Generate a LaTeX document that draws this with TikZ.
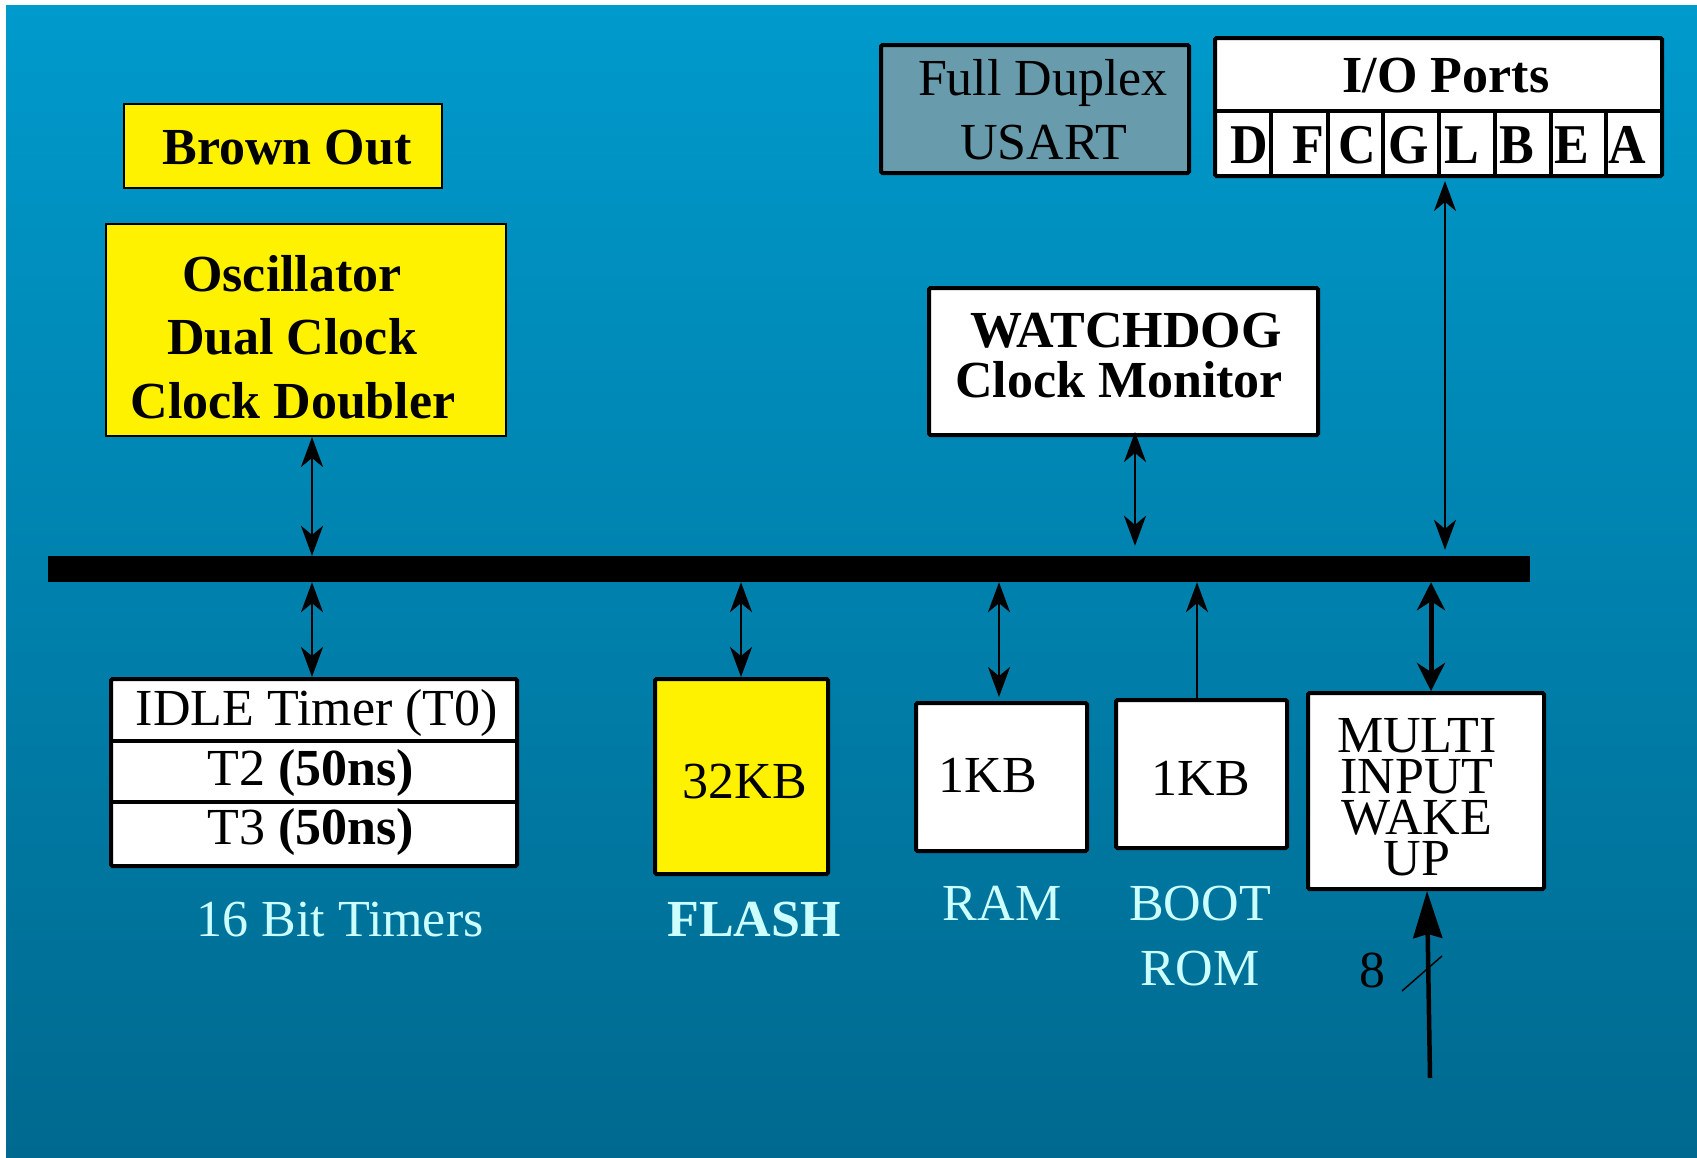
\documentclass[tikz,border=0pt]{standalone}
\usepackage{fontspec}
\setmainfont{Liberation Serif}
\usetikzlibrary{arrows.meta,calc}

\definecolor{bgtop}{RGB}{0,154,204}
\definecolor{bgbot}{RGB}{0,105,143}
\definecolor{usartfill}{RGB}{104,155,172}
\definecolor{captioncyan}{RGB}{204,255,255}

\begin{document}
\begin{tikzpicture}[x=1pt,y=-1pt,
  thinbox/.style={draw=black, line width=2pt, fill=yellow, inner sep=0pt},
  heavybox/.style={draw=black, line width=4pt, fill=white, inner sep=0pt, rounded corners=1.5pt},
  divider/.style={draw=black, line width=4pt},
  txt/.style={font=\fontsize{52}{52}\selectfont, inner sep=0pt, anchor=base},
  btxt/.style={font=\fontsize{52}{52}\selectfont\bfseries, inner sep=0pt, anchor=base},
  captext/.style={text=captioncyan},
  link/.style={line width=2.5pt, {Stealth[length=30pt,width=22pt,inset=9pt]}-{Stealth[length=30pt,width=22pt,inset=9pt]}},
  oneway/.style={line width=2.5pt, -{Stealth[length=30pt,width=22pt,inset=9pt]}},
  heavylink/.style={line width=5pt, {Stealth[length=28pt,width=28pt,inset=9pt]}-{Stealth[length=28pt,width=28pt,inset=9pt]}},
  inlink/.style={line width=4.5pt, -{Stealth[length=47pt,width=29pt,inset=4pt]}}
]
\useasboundingbox (0,0) rectangle (1697,1157);
\fill[white] (0,0) rectangle (1697,1157);
\shade[top color=bgtop, bottom color=bgbot] (6,5) rectangle (1697,1157);

% internal bus
\node[fill=black, inner sep=0pt, minimum width=1482pt, minimum height=26pt] (bus) at (789,569) {};

% clock section
\node[thinbox, minimum width=318pt, minimum height=84pt] (brown) at (283,146) {};
\node[btxt] (browntxt) at (287,164) {Brown Out};

\node[thinbox, minimum width=400pt, minimum height=212pt] (osc) at (306,330) {};
\node[btxt] (osctxta) at (292,291) {Oscillator};
\node[btxt] (osctxtb) at (292,354) {Dual Clock};
\node[btxt] (osctxtc) at (293,418) {Clock Doubler};

% serial port
\node[heavybox, fill=usartfill, minimum width=308pt, minimum height=128pt] (usart) at (1035,109) {};
\node[txt] (usarttxta) at (1043,95) {Full Duplex};
\node[txt] (usarttxtb) at (1044,159) {USART};

% I/O ports
\node[heavybox, minimum width=447pt, minimum height=138pt] (io) at (1438.5,107) {};
\draw[divider] (io.west |- 0,111) -- (io.east |- 0,111);
\foreach \xx in {1271,1328,1383,1439,1495,1551,1606}
  \draw[divider] (\xx,111) -- (io.south -| \xx,0);
\node[btxt] (iotxt) at (1446,92) {I/O Ports};
\foreach \xx/\pp in {1249/D,1308/F,1357/C,1409/G,1462/L,1517/B,1572/E,1627/A}
  \node[btxt, yscale=1.08] (port\pp) at (\xx,163) {\pp};

% watchdog
\node[heavybox, minimum width=389pt, minimum height=147pt] (wd) at (1123.5,361.5) {};
\node[btxt] (wdtxta) at (1126,347) {WATCHDOG};
\node[btxt] (wdtxtb) at (1119,397) {Clock Monitor};

% timers
\node[heavybox, minimum width=406pt, minimum height=187pt] (timers) at (314,772.5) {};
\draw[divider] (timers.west |- 0,741) -- (timers.east |- 0,741);
\draw[divider] (timers.west |- 0,802) -- (timers.east |- 0,802);
\node[txt] (tmtxta) at (317,725) {IDLE Timer (T0)};
\node[txt] (tmtxtb) at (311,785) {T2 \textbf{(50ns)}};
\node[txt] (tmtxtc) at (311,844) {T3 \textbf{(50ns)}};
\node[txt, captext] (tmcap) at (340,936) {16 Bit Timers};

% flash
\node[heavybox, fill=yellow, minimum width=173pt, minimum height=195pt] (flash) at (741.5,776.5) {};
\node[txt] (flashtxt) at (745,798) {32KB};
\node[btxt, captext] (flashcap) at (754,936) {FLASH};

% ram
\node[heavybox, minimum width=171pt, minimum height=148pt] (ram) at (1001.5,777) {};
\node[txt] (ramtxt) at (988,792) {1KB};
\node[txt, captext] (ramcap) at (1002,920) {RAM};

% boot rom
\node[heavybox, minimum width=171pt, minimum height=148pt] (boot) at (1201.5,774) {};
\node[txt] (boottxt) at (1201,795) {1KB};
\node[txt, captext] (bootcapa) at (1200,920) {BOOT};
\node[txt, captext] (bootcapb) at (1200,985) {ROM};

% wake-up inputs
\node[heavybox, minimum width=236pt, minimum height=196pt] (multi) at (1426,791) {};
\node[font=\fontsize{52}{41}\selectfont, inner sep=0pt, align=center, anchor=south]
  (multitxt) at (1417,876) {MULTI\\INPUT\\WAKE\\UP};

% connections to the bus
\draw[link] (osc.south -| 312,0) -- (bus.north -| 312,0);
\draw[link] (bus.south -| 312,0) -- (timers.north -| 312,0);
\draw[link] (bus.south -| 741,0) -- (flash.north -| 741,0);
\draw[link] (bus.south -| 999,0) -- ($(ram.north -| 999,0)+(0,-4)$);
\draw[oneway] (boot.north -| 1197,0) -- (bus.south -| 1197,0);
\draw[heavylink] (bus.south -| 1431,0) -- (multi.north -| 1431,0);
\draw[link] ($(wd.south -| 1135,0)+(0,-5)$) -- ($(bus.north -| 1135,0)+(0,-10)$);
\draw[link] ($(io.south -| 1445,0)+(0,3)$) -- ($(bus.north -| 1445,0)+(0,-6)$);

% 8-bit wake-up input
\coordinate (wakein) at (1430,1078);
\draw[inlink] (wakein) -- (multi.south -| 1427,0);
\draw[line width=1.5pt] (1402,991) -- (1442,956);
\node[txt] (buswidth) at (1372,987) {8};
\end{tikzpicture}
\end{document}
